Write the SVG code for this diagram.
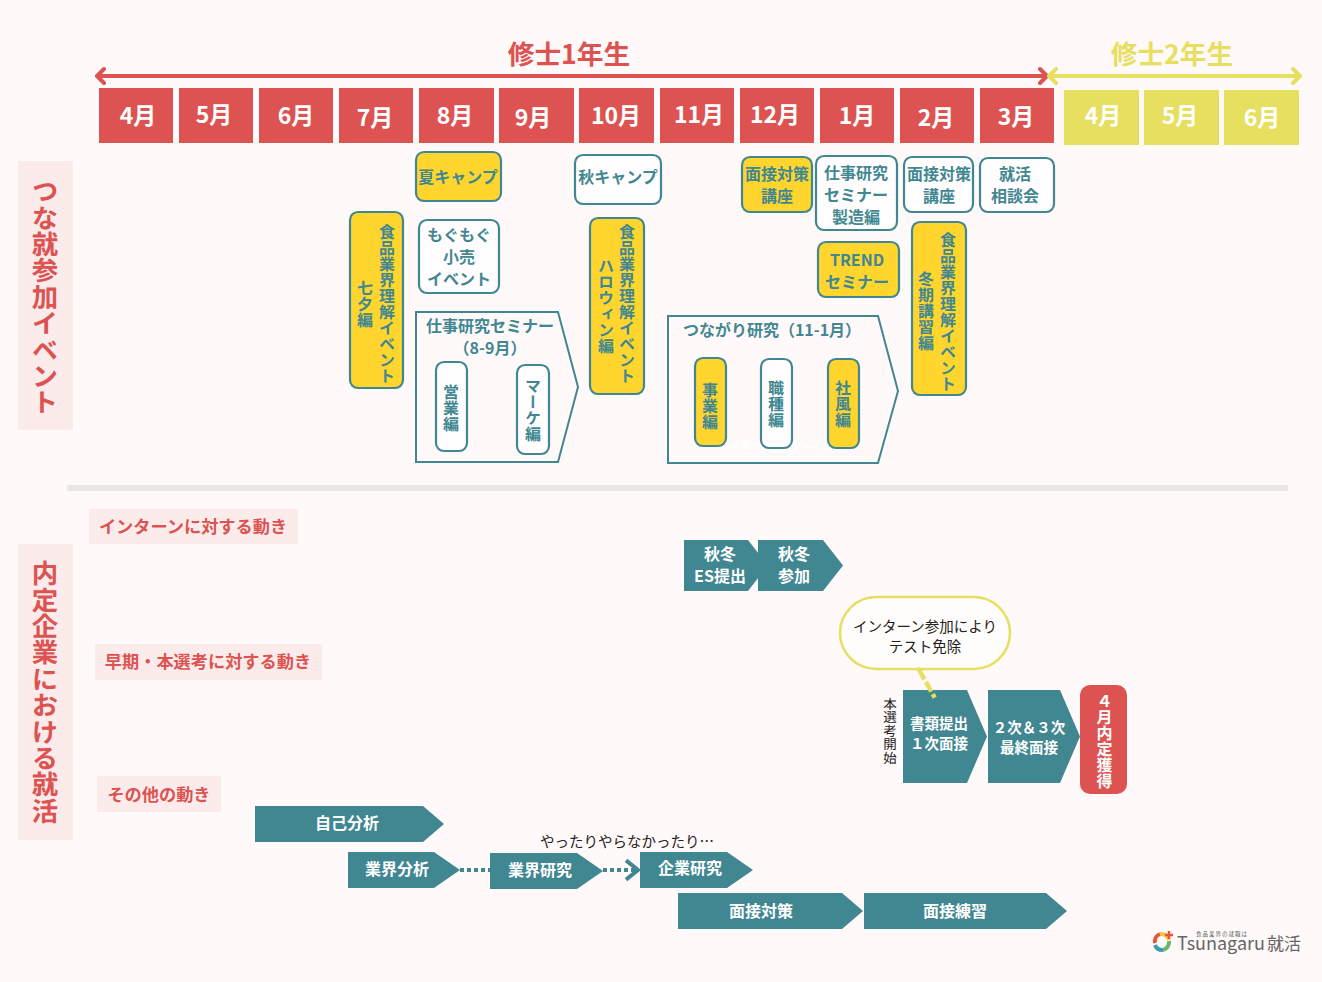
<svg xmlns="http://www.w3.org/2000/svg" width="1322" height="982" viewBox="0 0 1322 982">
<style>
text{font-family:"Noto Sans CJK JP","Noto Sans",sans-serif;text-anchor:middle}
.m{font-size:23px;font-weight:700;fill:#fff}
.red{fill:#DC5351}.yel{fill:#E6DF60}.band{fill:#FBEBEB}
.t{fill:#418792}
.w{font-size:16px;font-weight:700;fill:#fff}
.n{font-size:16px;font-weight:700;fill:#418792}
.v{writing-mode:vertical-rl;text-orientation:upright;text-anchor:start;text-rendering:geometricPrecision}
.amb{fill:#FFD52E;stroke:#418792;stroke-width:2.2}
.wht{fill:#FFFDFD;stroke:#418792;stroke-width:2.2}
.out{fill:#FFF9F9;stroke:#418792;stroke-width:2}
.k{font-size:14.5px;fill:#222}
.h{font-size:26.7px;font-weight:700}
.s{font-size:26.4px;font-weight:700;fill:#DC5351}
.l{font-size:17.2px;font-weight:700;fill:#DC5351}
</style>
<defs>
<marker id="chev" markerWidth="6" markerHeight="6" refX="4" refY="3" orient="auto" markerUnits="strokeWidth"><path d="M1 .6 4 3 1 5.4" fill="none" stroke="#418792" stroke-width="1"/></marker>
</defs>
<rect width="1322" height="982" fill="#FFF9F9"/>

<g id="timeline">
<g class="red">
<rect x="99" y="88" width="74" height="55"/><rect x="179" y="88" width="74" height="55"/><rect x="259" y="88" width="74" height="55"/><rect x="339" y="88" width="74" height="55"/><rect x="419" y="88" width="75" height="55"/><rect x="499" y="88" width="75" height="55"/><rect x="579" y="88" width="75" height="55"/><rect x="660" y="88" width="74" height="55"/><rect x="740" y="88" width="74" height="55"/><rect x="820" y="88" width="74" height="55"/><rect x="900" y="88" width="74" height="55"/><rect x="980" y="88" width="74" height="55"/>
</g>
<g class="yel">
<rect x="1064" y="90" width="75" height="55"/><rect x="1144" y="90" width="75" height="55"/><rect x="1224" y="90" width="75" height="55"/>
</g>
<g class="m">
<text x="138" y="124">4月</text><text x="214" y="123">5月</text><text x="296" y="124">6月</text><text x="375" y="126">7月</text><text x="455" y="124">8月</text><text x="533" y="126">9月</text><text x="616" y="124">10月</text><text x="699" y="123">11月</text><text x="775" y="123">12月</text><text x="857" y="124">1月</text><text x="936" y="126">2月</text><text x="1016" y="125">3月</text>
<text x="1103" y="124">4月</text><text x="1180" y="124">5月</text><text x="1262" y="126">6月</text>
</g>
<path d="M1046 76H97M104 69 97 76 104 83M1040 69 1047 76 1040 83" fill="none" stroke="#DC5351" stroke-width="4" stroke-linecap="round" stroke-linejoin="round"/>
<path d="M1049 76H1300M1056 69 1049 76 1056 83M1293 69 1300 76 1293 83" fill="none" stroke="#E6DF60" stroke-width="4" stroke-linecap="round" stroke-linejoin="round"/>
<text class="h red" x="569" y="64">修士1年生</text>
<text class="h yel" x="1172" y="64">修士2年生</text>
</g>

<g id="band-events"><rect class="band" x="18" y="161" width="55" height="269"/><text class="s v" x="45" y="178">つな就参加イベント</text></g>
<g id="band-naitei"><rect class="band" x="18" y="544" width="55" height="296"/><text class="s v" x="45" y="560">内定企業における就活</text></g>

<g id="natsu-camp"><rect class="amb" x="416" y="152" width="85" height="49" rx="8"/><text class="n" x="458" y="183">夏キャンプ</text></g>
<g id="aki-camp"><rect class="wht" x="575" y="155" width="86" height="49" rx="8"/><text class="n" x="618" y="183">秋キャンプ</text></g>
<g id="mensetsu-1"><rect class="amb" x="742" y="157" width="70" height="55" rx="8"/><text class="n" x="777" y="180">面接対策</text><text class="n" x="777" y="202">講座</text></g>
<g id="shigoto-seminar"><rect class="wht" x="816" y="156" width="81" height="74" rx="8"/><text class="n" x="856" y="179">仕事研究</text><text class="n" x="856" y="201">セミナー</text><text class="n" x="856" y="223">製造編</text></g>
<g id="mensetsu-2"><rect class="wht" x="904" y="157" width="69" height="55" rx="8"/><text class="n" x="939" y="180">面接対策</text><text class="n" x="939" y="202">講座</text></g>
<g id="soudan"><rect class="wht" x="980" y="158" width="74" height="54" rx="8"/><text class="n" x="1015" y="180">就活</text><text class="n" x="1015" y="202">相談会</text></g>
<g id="trend"><rect class="amb" x="818" y="242" width="81" height="55" rx="8"/><text class="n" x="857" y="266">TREND</text><text class="n" x="857" y="288">セミナー</text></g>
<g id="tanabata"><rect class="amb" x="350" y="212" width="53" height="176" rx="8"/><text class="n v" x="387" y="224">食品業界理解イベント</text><text class="n v" x="365" y="280">七夕編</text></g>
<g id="mogumogu"><rect class="wht" x="419" y="220" width="80" height="73" rx="8"/><text class="n" x="459" y="241">もぐもぐ</text><text class="n" x="459" y="263">小売</text><text class="n" x="459" y="285">イベント</text></g>
<g id="halloween"><rect class="amb" x="590" y="218" width="54" height="176" rx="8"/><text class="n v" x="627" y="224">食品業界理解イベント</text><text class="n v" x="606" y="258">ハロウィン編</text></g>
<g id="fuyuki"><rect class="amb" x="912" y="222" width="54" height="173" rx="8"/><text class="n v" x="948" y="232">食品業界理解イベント</text><text class="n v" x="926" y="271">冬期講習編</text></g>

<g id="shigoto-8-9"><path class="out" d="M416 312H558L578 387 558 462H416Z"/><text class="n" x="490" y="332">仕事研究セミナー</text><text class="n" x="490" y="354">（8-9月）</text>
<rect class="wht" x="436" y="362" width="31" height="89" rx="8"/><text class="n v" x="451" y="384">営業編</text>
<rect class="wht" x="517" y="365" width="32" height="89" rx="8"/><text class="n v" x="533" y="378">マーケ編</text></g>

<g id="tsunagari-11-1"><path class="out" d="M668 316H878L898 391 878 463H668Z"/><text class="n" x="772" y="336">つながり研究（11-1月）</text>
<text x="778" y="453" style="font-size:16px;font-weight:500;fill:#fff">秋冬インターン</text>
<rect class="amb" x="695" y="358" width="31" height="88" rx="8"/><text class="n v" x="710" y="382">事業編</text>
<rect class="wht" x="761" y="359" width="31" height="89" rx="8"/><text class="n v" x="776" y="380">職種編</text>
<rect class="amb" x="828" y="359" width="31" height="89" rx="8"/><text class="n v" x="843" y="380">社風編</text></g>

<rect id="divider" x="67" y="485" width="1221" height="6" fill="#E9E6E3"/>

<g id="label-intern"><rect class="band" x="89" y="509" width="209" height="35"/><text class="l" x="193" y="533">インターンに対する動き</text></g>
<g id="label-honsenko"><rect class="band" x="95" y="644" width="227" height="36"/><text class="l" x="208" y="668">早期・本選考に対する動き</text></g>
<g id="label-other"><rect class="band" x="97" y="776" width="124" height="36"/><text class="l" x="159" y="801">その他の動き</text></g>

<g id="aki-es"><path class="t" d="M684 540H748L768 565.5 748 591H684Z"/><text class="w" x="720" y="560">秋冬</text><text class="w" x="720" y="582">ES提出</text></g>
<g id="aki-join"><path class="t" d="M758 540H823L843 565.5 823 591H758Z"/><text class="w" x="794" y="560">秋冬</text><text class="w" x="794" y="582">参加</text></g>
<g id="callout"><rect x="840" y="597" width="170" height="72" rx="36" fill="#FFFCFC" stroke="#E6DF60" stroke-width="2.5"/><text class="k" x="925" y="632">インターン参加により</text><text class="k" x="925" y="652">テスト免除</text></g>
<g id="honsenko-start"><text class="v" x="890" y="697" style="font-size:13.5px;fill:#222">本選考開始</text></g>
<g id="shorui"><path class="t" d="M903 690H967L987 736.5 967 783H903Z"/><text class="w" x="939" y="729" style="font-size:14.5px">書類提出</text><text class="w" x="939" y="749" style="font-size:14.5px">１次面接</text></g>
<g id="final"><path class="t" d="M988 690H1060L1080 736.5 1060 783H988Z"/><text class="w" x="1029" y="733" style="font-size:14.5px">２次＆３次</text><text class="w" x="1029" y="753" style="font-size:14.5px">最終面接</text></g>
<g id="naitei"><rect class="red" x="1080" y="685" width="47" height="109" rx="10"/><text class="v" x="1104.500" y="693" style="font-size:16px;font-weight:700;fill:#fff">４月内定獲得</text></g>

<g id="jiko"><path class="t" d="M255 806H423L444 824 423 842H255Z"/><text class="w" x="347" y="829">自己分析</text></g>
<g id="gyokai-bunseki"><path class="t" d="M348 852H434L460 870 434 888H348Z"/><text class="w" x="397" y="875">業界分析</text></g>
<g id="gyokai-kenkyu"><path class="t" d="M490 853H577L603 871 577 889H490Z"/><text class="w" x="540" y="876">業界研究</text></g>
<g id="kigyo"><path class="t" d="M640 852H727L753 870 727 888H640Z"/><text class="w" x="690" y="874">企業研究</text></g>
<g id="yattari"><text class="k" x="627" y="847">やったりやらなかったり…</text></g>
<g id="mensetsu-taisaku"><path class="t" d="M678 893H842L863 911 842 929H678Z"/><text class="w" x="761" y="917">面接対策</text></g>
<g id="mensetsu-renshu"><path class="t" d="M864 893H1046L1067 911 1046 929H864Z"/><text class="w" x="955" y="917">面接練習</text></g>

<g id="connectors">
<path d="M460 870H490" fill="none" stroke="#418792" stroke-width="4" stroke-dasharray="4 3"/>
<path d="M603 870H638" fill="none" stroke="#418792" stroke-width="4" stroke-dasharray="4 3" marker-end="url(#chev)"/>
<path d="M918 668 935 698" fill="none" stroke="#E6DF60" stroke-width="4.500" stroke-dasharray="13 3 11 3 4"/>
</g>

<g id="logo">
<g fill="none" stroke-width="4">
<path d="M1155 943A8 8 0 0 1 1160 934" stroke="#E8553F"/>
<path d="M1160 934A8 8 0 0 1 1169 940" stroke="#F4C63A"/>
<path d="M1169 941A8 8 0 0 1 1163 950" stroke="#6CB56B"/>
<path d="M1163 950A8 8 0 0 1 1155 945" stroke="#3F9BB0"/>
</g>
<path d="M1169 931V939M1165 935H1173" stroke="#E8553F" stroke-width="2.5"/>
<text x="1222" y="936" style="font-size:5.5px;fill:#666;letter-spacing:1px">食品業界の就職は</text>
<text x="1221" y="950" style="font-size:18px;fill:#666">Tsunagaru</text>
<text x="1284" y="950" style="font-size:17px;fill:#666">就活</text>
</g>
</svg>
